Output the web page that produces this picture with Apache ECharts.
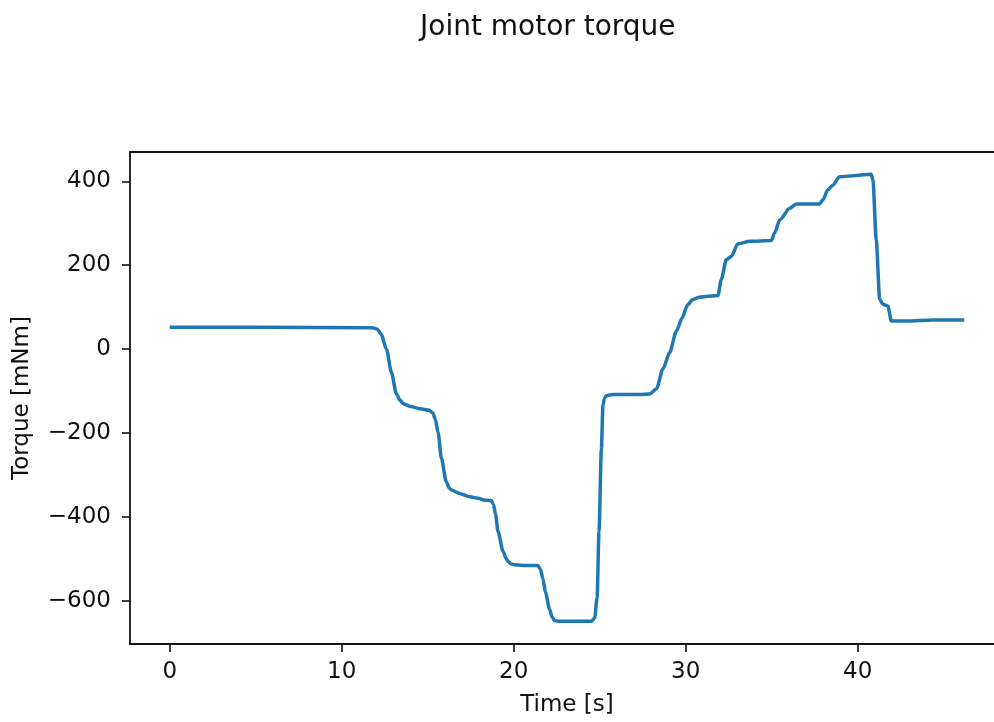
<!DOCTYPE html>
<html>
<head>
<meta charset="utf-8">
<script src="https://cdn.jsdelivr.net/npm/echarts@6/dist/echarts.min.js"></script>
<style>
  html, body { margin: 0; padding: 0; background: #fff; overflow: hidden; }
  /* the reference is cut off on the right, so the canvas is wider than the window */
  #chart { width: 1100px; height: 722px; }
</style>
</head>
<body>
<div id="chart"></div>
<script>
// time [s] and motor torque [mNm]
const timeS = [
  0, 5, 11.8, 12.05, 12.3, 12.6, 12.89, 13.18, 13.4, 13.57, 13.95, 14.53, 15.1, 15.3, 15.45,
  15.6, 15.8, 16.08, 16.25, 16.38, 16.86, 17.44, 18.0, 18.3, 18.7, 18.82, 18.95, 19.09, 19.38,
  19.55, 19.67, 19.85, 20.06, 20.74, 21.41, 21.55, 21.7, 21.85, 22.09, 22.25, 22.38, 22.6,
  23.45, 24.52, 24.71, 24.85, 24.96, 25.1, 25.19, 25.28, 25.39, 25.77,
  27.33, 27.9, 28.3, 28.68, 29.07, 29.46, 29.8, 30.1, 30.4, 30.8, 31.88, 32.07, 32.36,
  32.65, 33.04, 33.72, 34.98, 35.17, 35.47, 36.05, 36.43, 37.79, 37.98, 38.27, 38.56,
  38.95, 39.92, 40.79, 40.89, 41.08, 41.28, 41.47, 41.76, 41.96, 42.83, 44.37, 46.2
];
const torqueMNm = [
  52, 52, 51, 48, 36, 0, -55, -107, -122, -130, -136, -142, -146, -152, -168,
  -198, -261, -316, -331, -336, -344, -352, -356, -360, -361, -370, -395, -435, -482,
  -498, -506, -512, -514, -516, -516, -524, -548, -580, -621, -640, -647, -649,
  -649, -649, -641, -593, -435, -237, -134, -117, -111, -108,
  -108, -107, -95, -47, -8, 43, 75, 105, 118, 124, 128, 166, 213,
  221, 251, 257, 259, 277, 308, 336, 346, 346, 356, 380, 391,
  411, 414, 417, 403, 261, 119, 107, 103, 67, 67, 69.5, 69.5
];
const xTicks = [0, 10, 20, 30, 40];
const yTicks = [-600, -400, -200, 0, 200, 400];

const chart = echarts.init(document.getElementById('chart'), null, { renderer: 'canvas' });
const font = 'DejaVu Sans';
const minus = (v) => String(v).replace('-', '\u2212');
const frameLine = { show: true, onZero: false, lineStyle: { color: '#111', width: 1.8 } };

const option = {
  backgroundColor: '#fff',
  animation: false,
  title: {
    text: 'Joint motor torque',
    left: 415,
    top: 9,
    textStyle: { fontFamily: font, fontSize: 28, fontWeight: 'normal', color: '#111' }
  },
  grid: {
    left: 130,
    top: 152,
    width: 874,
    height: 494,
    show: false,
    containLabel: false
  },
  xAxis: [{
    type: 'value',
    position: 'bottom',
    min: -2.31,
    max: 48.51,
    name: 'Time [s]',
    nameLocation: 'middle',
    nameGap: 50,
    nameTextStyle: { fontFamily: font, fontSize: 23, color: '#111' },
    axisLine: frameLine,
    splitLine: { show: false },
    axisTick: { show: true, length: 8, lineStyle: { color: '#111', width: 1.6 }, customValues: xTicks },
    axisLabel: { margin: 17, fontFamily: font, fontSize: 23, color: '#111', customValues: xTicks, formatter: minus }
  }, {
    // top edge of the frame only
    type: 'value',
    position: 'top',
    min: -2.31,
    max: 48.51,
    axisLine: frameLine,
    splitLine: { show: false },
    axisTick: { show: false },
    axisLabel: { show: false }
  }],
  yAxis: {
    type: 'value',
    position: 'left',
    min: -703,
    max: 470,
    name: 'Torque [mNm]',
    nameLocation: 'middle',
    nameRotate: 90,
    nameGap: 96,
    nameTextStyle: { fontFamily: font, fontSize: 23, color: '#111' },
    axisLine: frameLine,
    splitLine: { show: false },
    axisTick: { show: true, length: 8, lineStyle: { color: '#111', width: 1.6 }, customValues: yTicks },
    axisLabel: { margin: 19, fontFamily: font, fontSize: 23, color: '#111', customValues: yTicks, formatter: minus }
  },
  series: [{
    type: 'line',
    xAxisIndex: 0,
    data: timeS.map((t, i) => [t, torqueMNm[i]]),
    showSymbol: false,
    smooth: 0.25,
    smoothMonotone: 'x',
    lineStyle: { color: '#1f77b4', width: 3.5 },
    clip: true
  }]
};
chart.setOption(option);
</script>
</body>
</html>
